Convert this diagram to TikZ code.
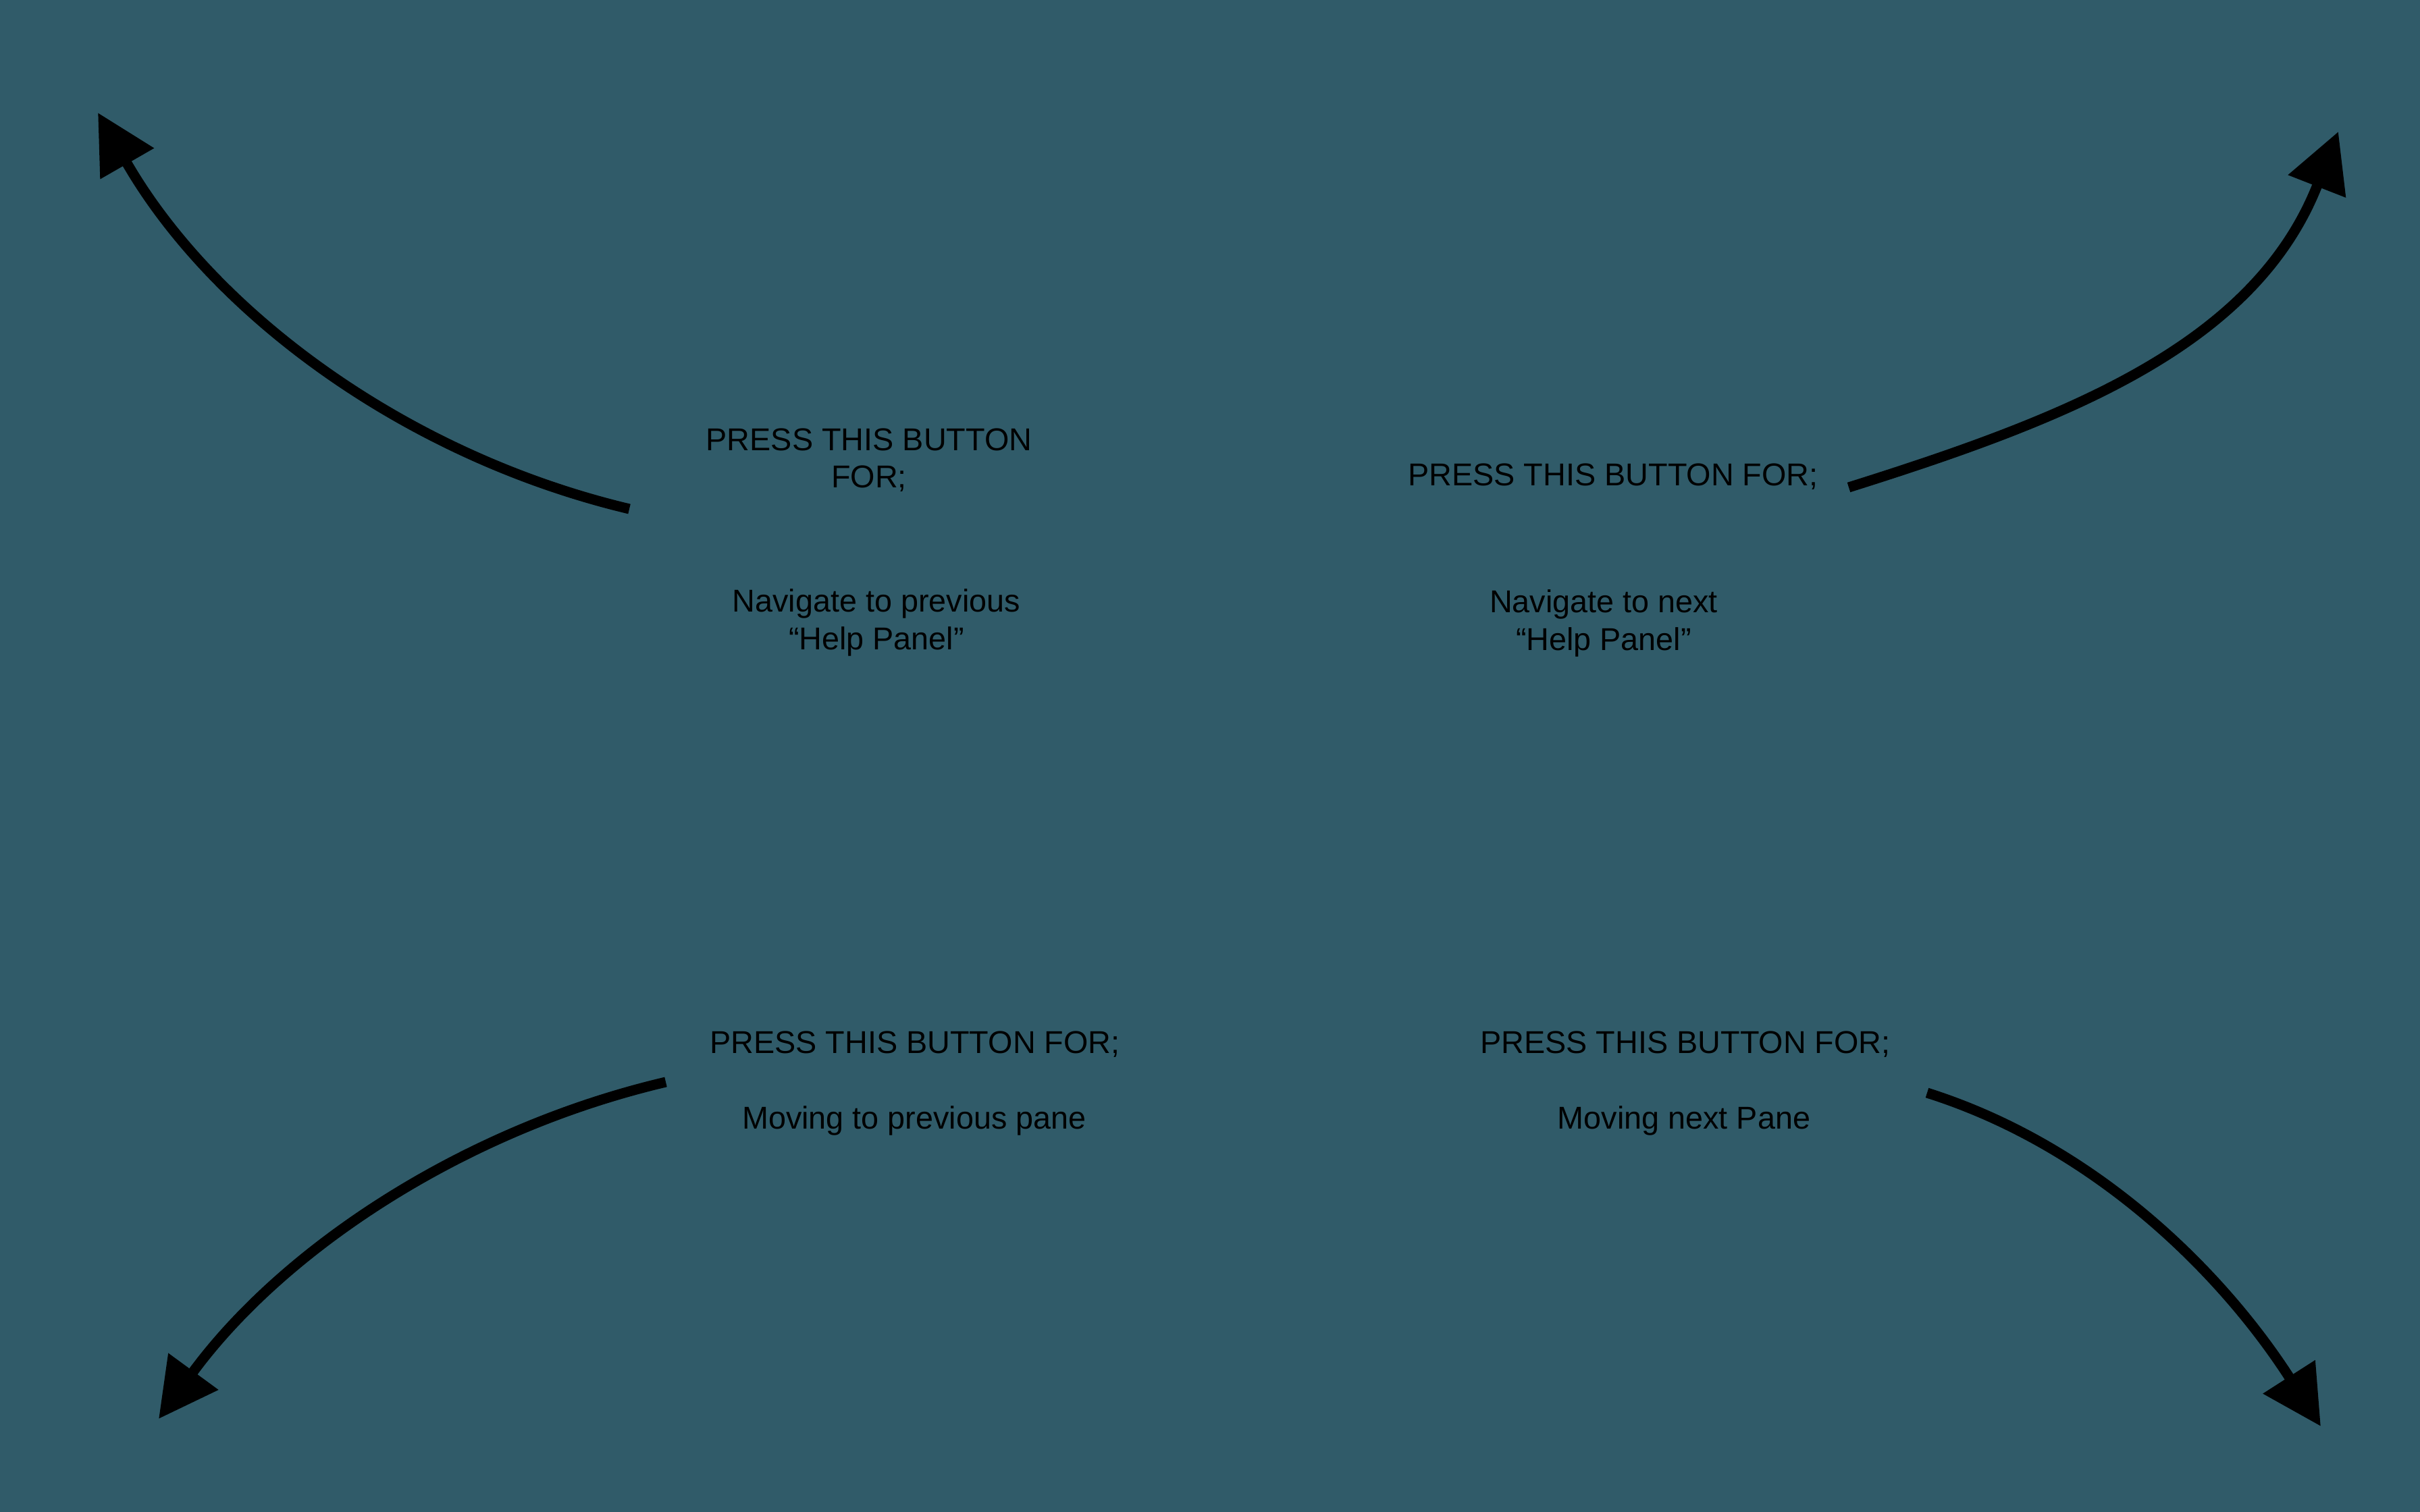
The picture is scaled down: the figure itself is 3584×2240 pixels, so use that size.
\documentclass[tikz,border=0pt]{standalone}
\usepackage{fontspec}
\setmainfont{Liberation Sans}
\usetikzlibrary{arrows.meta}
\definecolor{bgteal}{RGB}{48,91,105}
\tikzset{
  label/.style={text=black, anchor=base, align=center, inner sep=0pt,
    font=\fontsize{13.3pt}{15.9pt}\selectfont},
  bigarrow/.style={draw=black, line width=0.15cm, line cap=butt,
    -{Triangle[length=0.87cm,width=0.88cm]}}
}
\begin{document}
\begin{tikzpicture}[x=0.01cm,y=-0.01cm]
\path[fill=bgteal] (0,0) rectangle (3584,2240);
\useasboundingbox (0,0) rectangle (3584,2240);

% text blocks (anchor = baseline of last line)
\node[label] (tlhead) at (1287,723) {PRESS THIS BUTTON\\FOR;};
\node[label] (tlbody) at (1298,962) {Navigate to previous\\“Help Panel”};
\node[label] (trhead) at (2389,720) {PRESS THIS BUTTON FOR;};
\node[label] (trbody) at (2375,963) {Navigate to next\\“Help Panel”};
\node[label] (blhead) at (1355,1560) {PRESS THIS BUTTON FOR;};
\node[label] (blbody) at (1354,1672) {Moving to previous pane};
\node[label] (brhead) at (2496,1560) {PRESS THIS BUTTON FOR;};
\node[label] (brbody) at (2494,1672) {Moving next Pane};

% arrow ends
\coordinate (s1) at (932,754);
\coordinate (e1) at (145,167);
\coordinate (s2) at (2738,722);
\coordinate (e2) at (3463,195);
\coordinate (s3) at (986,1603);
\coordinate (e3) at (235,2102);
\coordinate (s4) at (2854,1619);
\coordinate (e4) at (3437,2113);

\draw[bigarrow] (s1) .. controls +(-332,-79) and +(170,296) .. (e1);
\draw[bigarrow] (s2) .. controls +(324,-102) and +(-124,317) .. (e2);
\draw[bigarrow] (s3) .. controls +(-302,71) and +(183,-250) .. (e3);
\draw[bigarrow] (s4) .. controls +(253,80) and +(-143,-223) .. (e4);
\end{tikzpicture}
\end{document}
